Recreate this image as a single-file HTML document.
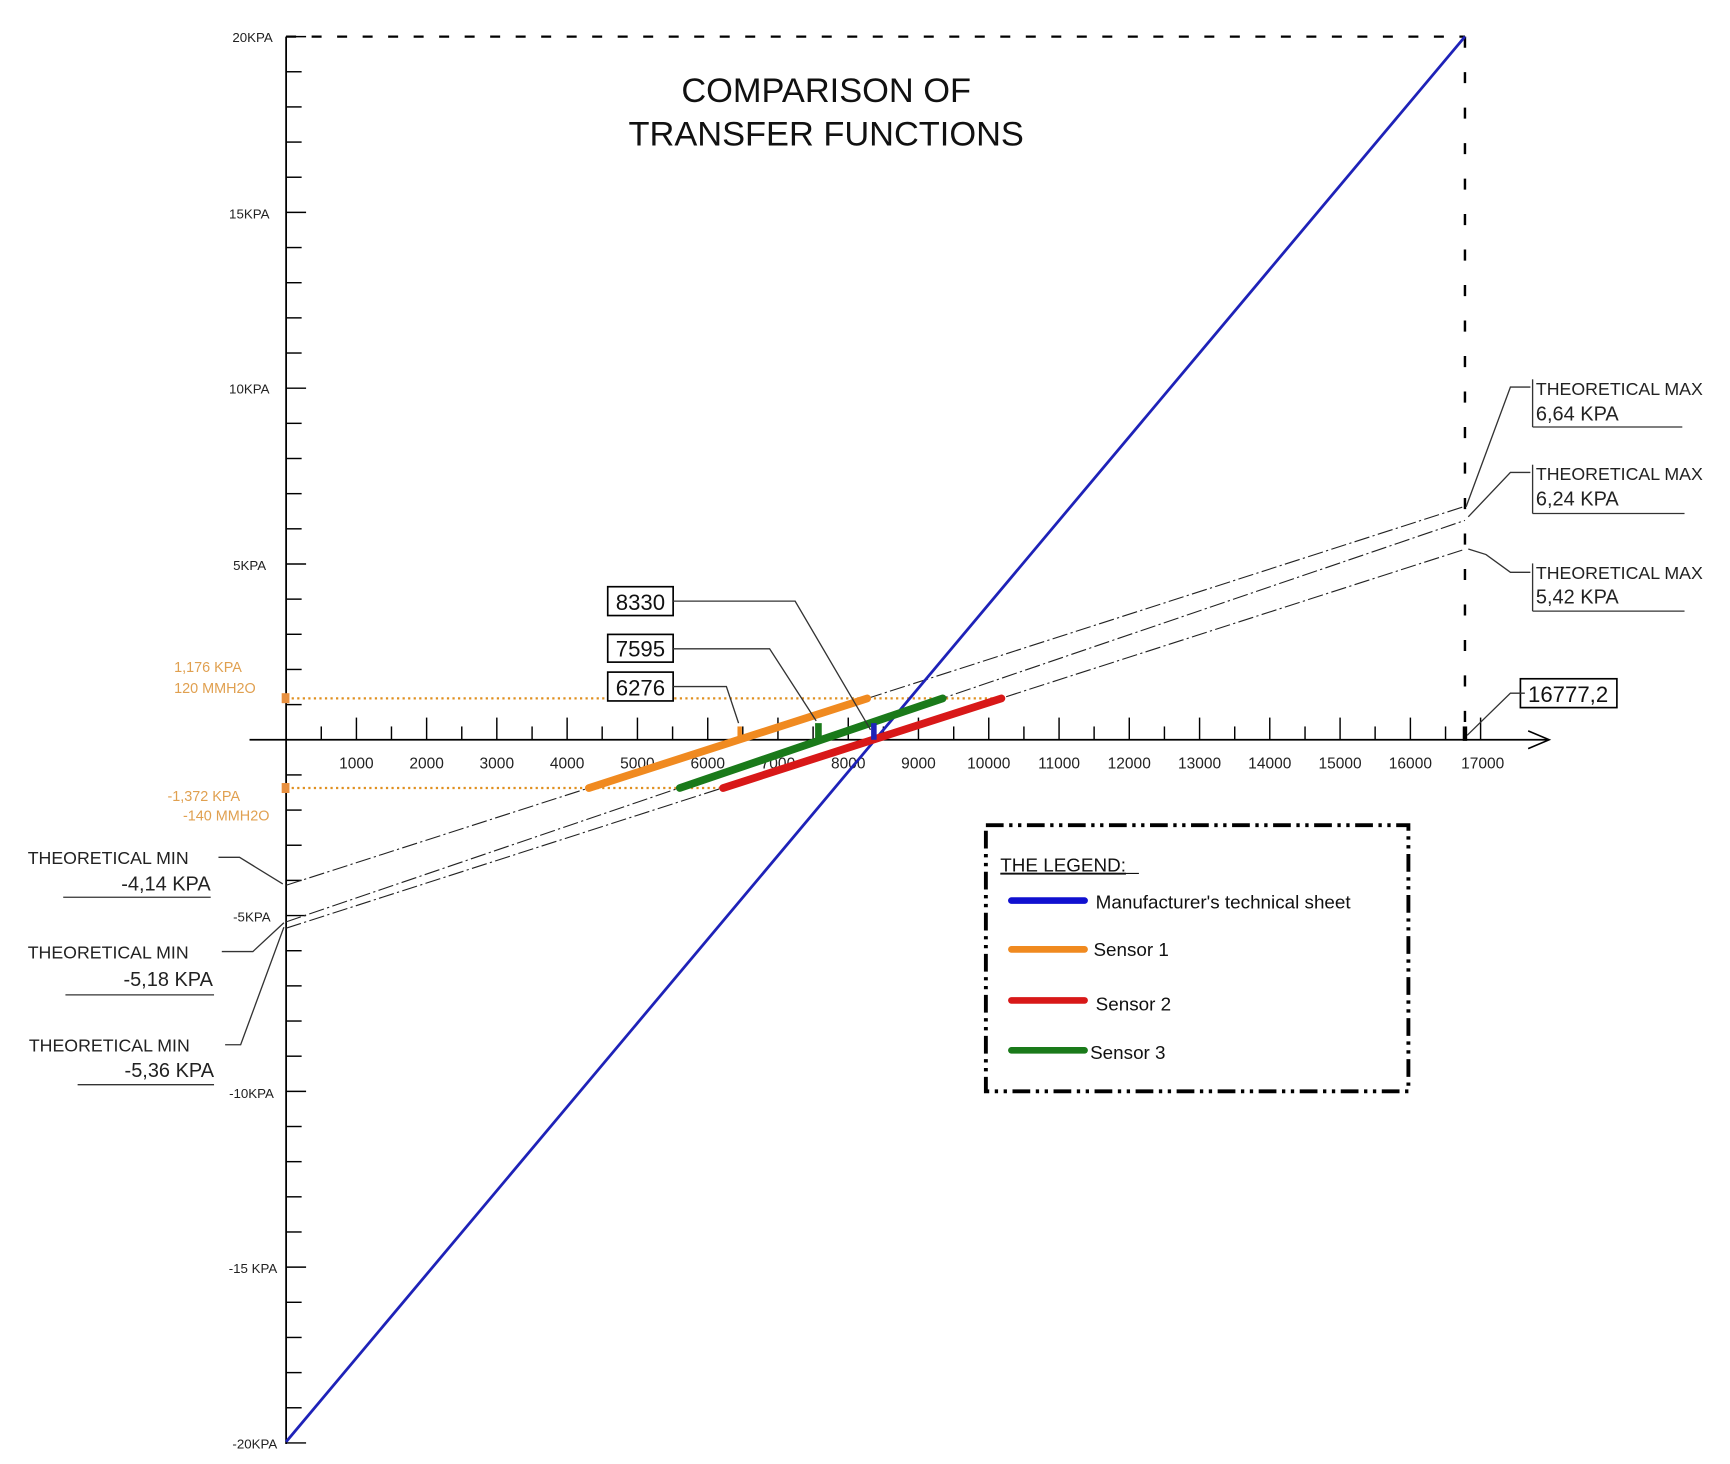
<!DOCTYPE html>
<html><head><meta charset="utf-8"><style>
html,body{margin:0;padding:0;background:#fff;}
svg{display:block;}
text{font-family:"Liberation Sans",sans-serif;}
</style></head><body>
<svg width="1730" height="1464" viewBox="0 0 1560 1320" preserveAspectRatio="none" xmlns="http://www.w3.org/2000/svg">
<rect width="1560" height="1320" fill="#fff"/>
<!-- axes -->
<line x1="258" y1="33" x2="258" y2="1302" stroke="#000" stroke-width="1.6"/>
<line x1="225" y1="667" x2="1395" y2="667" stroke="#000" stroke-width="1.6"/>
<polyline points="1378,659 1397,667 1378,675" fill="none" stroke="#000" stroke-width="1.4"/>
<!-- dashed frame -->
<line x1="258" y1="33" x2="1321" y2="33" stroke="#000" stroke-width="2" stroke-dasharray="9,14"/>
<line x1="1321" y1="33" x2="1321" y2="667" stroke="#000" stroke-width="2.2" stroke-dasharray="10,22"/>
<!-- y ticks -->
<g stroke="#000" stroke-width="1.3">
<line x1="258" y1="33" x2="276" y2="33"/><line x1="258" y1="64.7" x2="272" y2="64.7"/><line x1="258" y1="96.4" x2="272" y2="96.4"/><line x1="258" y1="128.1" x2="272" y2="128.1"/><line x1="258" y1="159.8" x2="272" y2="159.8"/><line x1="258" y1="191.5" x2="276" y2="191.5"/><line x1="258" y1="223.2" x2="272" y2="223.2"/><line x1="258" y1="254.9" x2="272" y2="254.9"/><line x1="258" y1="286.6" x2="272" y2="286.6"/><line x1="258" y1="318.3" x2="272" y2="318.3"/><line x1="258" y1="350" x2="276" y2="350"/><line x1="258" y1="381.7" x2="272" y2="381.7"/><line x1="258" y1="413.4" x2="272" y2="413.4"/><line x1="258" y1="445.1" x2="272" y2="445.1"/><line x1="258" y1="476.8" x2="272" y2="476.8"/><line x1="258" y1="508.5" x2="276" y2="508.5"/><line x1="258" y1="540.2" x2="272" y2="540.2"/><line x1="258" y1="571.9" x2="272" y2="571.9"/><line x1="258" y1="603.6" x2="272" y2="603.6"/><line x1="258" y1="635.3" x2="272" y2="635.3"/>
<line x1="258" y1="698.7" x2="272" y2="698.7"/><line x1="258" y1="730.4" x2="272" y2="730.4"/><line x1="258" y1="762.1" x2="272" y2="762.1"/><line x1="258" y1="793.8" x2="272" y2="793.8"/><line x1="258" y1="825.5" x2="276" y2="825.5"/><line x1="258" y1="857.2" x2="272" y2="857.2"/><line x1="258" y1="888.9" x2="272" y2="888.9"/><line x1="258" y1="920.6" x2="272" y2="920.6"/><line x1="258" y1="952.3" x2="272" y2="952.3"/><line x1="258" y1="984" x2="276" y2="984"/><line x1="258" y1="1015.7" x2="272" y2="1015.7"/><line x1="258" y1="1047.4" x2="272" y2="1047.4"/><line x1="258" y1="1079.1" x2="272" y2="1079.1"/><line x1="258" y1="1110.8" x2="272" y2="1110.8"/><line x1="258" y1="1142.5" x2="276" y2="1142.5"/><line x1="258" y1="1174.2" x2="272" y2="1174.2"/><line x1="258" y1="1205.9" x2="272" y2="1205.9"/><line x1="258" y1="1237.6" x2="272" y2="1237.6"/><line x1="258" y1="1269.3" x2="272" y2="1269.3"/><line x1="258" y1="1301" x2="276" y2="1301"/>
</g>
<g font-size="12" fill="#222" text-anchor="end">
<text x="246" y="38">20KPA</text><text x="243" y="197">15KPA</text><text x="243" y="355">10KPA</text><text x="240" y="514">5KPA</text>
<text x="244" y="831">-5KPA</text><text x="247" y="990">-10KPA</text><text x="250" y="1148">-15 KPA</text><text x="250" y="1306">-20KPA</text>
</g>
<!-- x ticks -->
<g stroke="#000" stroke-width="1.3">
<line x1="289.7" y1="667" x2="289.7" y2="655"/><line x1="321.4" y1="667" x2="321.4" y2="647"/><line x1="353" y1="667" x2="353" y2="655"/><line x1="384.7" y1="667" x2="384.7" y2="647"/><line x1="416.4" y1="667" x2="416.4" y2="655"/><line x1="448" y1="667" x2="448" y2="647"/><line x1="479.8" y1="667" x2="479.8" y2="655"/><line x1="511.4" y1="667" x2="511.4" y2="647"/><line x1="543" y1="667" x2="543" y2="655"/><line x1="574.8" y1="667" x2="574.8" y2="647"/><line x1="606.5" y1="667" x2="606.5" y2="655"/><line x1="638.2" y1="667" x2="638.2" y2="647"/><line x1="669.8" y1="667" x2="669.8" y2="655"/><line x1="701.5" y1="667" x2="701.5" y2="647"/><line x1="733.2" y1="667" x2="733.2" y2="655"/><line x1="764.9" y1="667" x2="764.9" y2="647"/><line x1="796.6" y1="667" x2="796.6" y2="655"/><line x1="828.2" y1="667" x2="828.2" y2="647"/><line x1="860" y1="667" x2="860" y2="655"/><line x1="891.6" y1="667" x2="891.6" y2="647"/><line x1="923.3" y1="667" x2="923.3" y2="655"/><line x1="955" y1="667" x2="955" y2="647"/><line x1="986.6" y1="667" x2="986.6" y2="655"/><line x1="1018.3" y1="667" x2="1018.3" y2="647"/><line x1="1050" y1="667" x2="1050" y2="655"/><line x1="1081.7" y1="667" x2="1081.7" y2="647"/><line x1="1113.4" y1="667" x2="1113.4" y2="655"/><line x1="1145" y1="667" x2="1145" y2="647"/><line x1="1176.8" y1="667" x2="1176.8" y2="655"/><line x1="1208.4" y1="667" x2="1208.4" y2="647"/><line x1="1240" y1="667" x2="1240" y2="655"/><line x1="1271.8" y1="667" x2="1271.8" y2="647"/><line x1="1303.5" y1="667" x2="1303.5" y2="655"/><line x1="1335.1" y1="667" x2="1335.1" y2="647"/>
</g>
<g font-size="14" fill="#222" text-anchor="middle">
<text x="321.4" y="693">1000</text><text x="384.7" y="693">2000</text><text x="448" y="693">3000</text><text x="511.4" y="693">4000</text><text x="574.8" y="693">5000</text><text x="638.2" y="693">6000</text><text x="701.5" y="693">7000</text><text x="764.9" y="693">8000</text><text x="828.2" y="693">9000</text><text x="891.6" y="693">10000</text><text x="955" y="693">11000</text><text x="1018.3" y="693">12000</text><text x="1081.7" y="693">13000</text><text x="1145" y="693">14000</text><text x="1208.4" y="693">15000</text><text x="1271.8" y="693">16000</text><text x="1337" y="693">17000</text>
</g>
<!-- title -->
<text x="745" y="92" font-size="31" text-anchor="middle" fill="#111">COMPARISON OF</text>
<text x="745" y="131" font-size="31" text-anchor="middle" fill="#111">TRANSFER FUNCTIONS</text>
<!-- orange dotted levels -->
<line x1="258" y1="629.7" x2="903" y2="629.7" stroke="#e09020" stroke-width="2" stroke-dasharray="2,3"/>
<line x1="258" y1="710.5" x2="652" y2="710.5" stroke="#e09020" stroke-width="2" stroke-dasharray="2,3"/>
<rect x="254" y="625" width="7" height="9" fill="#e89040"/>
<rect x="254" y="706" width="7" height="9" fill="#e89040"/>
<g font-size="13" fill="#e0a050">
<text x="157" y="606">1,176 KPA</text><text x="157" y="625">120 MMH2O</text>
<text x="151" y="722">-1,372 KPA</text><text x="165" y="740">-140 MMH2O</text>
</g>
<!-- dashed sensor lines -->
<g stroke="#222" stroke-width="1" stroke-dasharray="14,3,2,3" fill="none">
<line x1="258" y1="798.2" x2="1321" y2="456.5"/>
<line x1="258" y1="831.2" x2="1321" y2="469.2"/>
<line x1="258" y1="836.9" x2="1321" y2="495.2"/>
</g>
<!-- blue line -->
<line x1="258" y1="1300" x2="1321" y2="33" stroke="#1e22b8" stroke-width="2.5"/>
<!-- sensor segments -->
<line x1="531" y1="710.5" x2="782" y2="629.7" stroke="#f08a20" stroke-width="7" stroke-linecap="round"/>
<line x1="613" y1="710.5" x2="850" y2="629.7" stroke="#1a7a1a" stroke-width="7" stroke-linecap="round"/>
<line x1="652" y1="710.5" x2="903" y2="629.7" stroke="#d81818" stroke-width="7" stroke-linecap="round"/>
<line x1="667" y1="667" x2="667" y2="655" stroke="#f08a20" stroke-width="4"/>
<line x1="738" y1="667" x2="738" y2="652" stroke="#1a7a1a" stroke-width="6"/>
<line x1="788" y1="667" x2="788" y2="652" stroke="#1e22b8" stroke-width="5"/>
<!-- annotation boxes -->
<g font-size="20" fill="#111">
<rect x="548" y="529" width="59" height="26" fill="#fff" stroke="#000" stroke-width="1.5"/><text x="577.5" y="550" text-anchor="middle">8330</text>
<rect x="548" y="572" width="59" height="25" fill="#fff" stroke="#000" stroke-width="1.5"/><text x="577.5" y="592" text-anchor="middle">7595</text>
<rect x="548" y="606" width="59" height="26" fill="#fff" stroke="#000" stroke-width="1.5"/><text x="577.5" y="627" text-anchor="middle">6276</text>
<rect x="1371" y="612" width="87" height="26" fill="#fff" stroke="#000" stroke-width="1.5"/><text x="1414" y="633" text-anchor="middle">16777,2</text>
</g>
<g stroke="#333" stroke-width="1.2" fill="none">
<polyline points="607,542 717,542 785,658"/>
<polyline points="607,585 694,585 736,650"/>
<polyline points="607,619 655,619 666,652"/>
<polyline points="1375,625 1362,625 1323,663"/>
<polyline points="1380,349 1362,349 1322,457"/>
<polyline points="1380,426 1362,426 1324,466"/>
<polyline points="1380,516 1362,516 1340,500 1324,495"/>
<polyline points="197,773 216,773 255,797"/>
<polyline points="200,858 228,858 256,832"/>
<polyline points="203,942 217,942 256,836"/>
<line x1="1382" y1="342" x2="1382" y2="385"/>
<line x1="1382" y1="419" x2="1382" y2="463"/>
<line x1="1382" y1="508" x2="1382" y2="551"/>
<line x1="1382" y1="385" x2="1517" y2="385"/>
<line x1="1382" y1="463" x2="1519" y2="463"/>
<line x1="1382" y1="551" x2="1519" y2="551"/>
<line x1="57" y1="809" x2="190" y2="809"/>
<line x1="59" y1="897" x2="193" y2="897"/>
<line x1="70" y1="978" x2="193" y2="978"/>
</g>
<line x1="1321" y1="655" x2="1321" y2="668" stroke="#000" stroke-width="4"/>
<g font-size="16" fill="#222">
<text x="1385" y="356">THEORETICAL MAX</text><text x="1385" y="379" font-size="18">6,64 KPA</text>
<text x="1385" y="433">THEORETICAL MAX</text><text x="1385" y="456" font-size="18">6,24 KPA</text>
<text x="1385" y="522">THEORETICAL MAX</text><text x="1385" y="544" font-size="18">5,42 KPA</text>
<text x="25" y="779">THEORETICAL MIN</text><text x="190" y="803" font-size="18" text-anchor="end">-4,14 KPA</text>
<text x="25" y="864">THEORETICAL MIN</text><text x="192" y="889" font-size="18" text-anchor="end">-5,18 KPA</text>
<text x="26" y="948">THEORETICAL MIN</text><text x="193" y="971" font-size="18" text-anchor="end">-5,36 KPA</text>
</g>
<!-- legend -->
<rect x="889" y="744" width="381" height="240" fill="#fff" stroke="#000" stroke-width="3.5" stroke-dasharray="16,5,3,5,3,5"/>
<text x="902" y="786" font-size="17" fill="#111" text-decoration="underline">THE LEGEND:</text>
<line x1="903" y1="787.5" x2="1027" y2="787.5" stroke="#111" stroke-width="1"/>
<line x1="912" y1="812" x2="978" y2="812" stroke="#1010d0" stroke-width="6" stroke-linecap="round"/>
<line x1="912" y1="856" x2="978" y2="856" stroke="#f08a20" stroke-width="6" stroke-linecap="round"/>
<line x1="912" y1="902" x2="978" y2="902" stroke="#d81818" stroke-width="6" stroke-linecap="round"/>
<line x1="912" y1="947" x2="978" y2="947" stroke="#1a7a1a" stroke-width="6" stroke-linecap="round"/>
<g font-size="17" fill="#111">
<text x="988" y="819">Manufacturer's technical sheet</text>
<text x="986" y="862">Sensor 1</text>
<text x="988" y="911">Sensor 2</text>
<text x="983" y="955">Sensor 3</text>
</g>
</svg>
</body></html>
